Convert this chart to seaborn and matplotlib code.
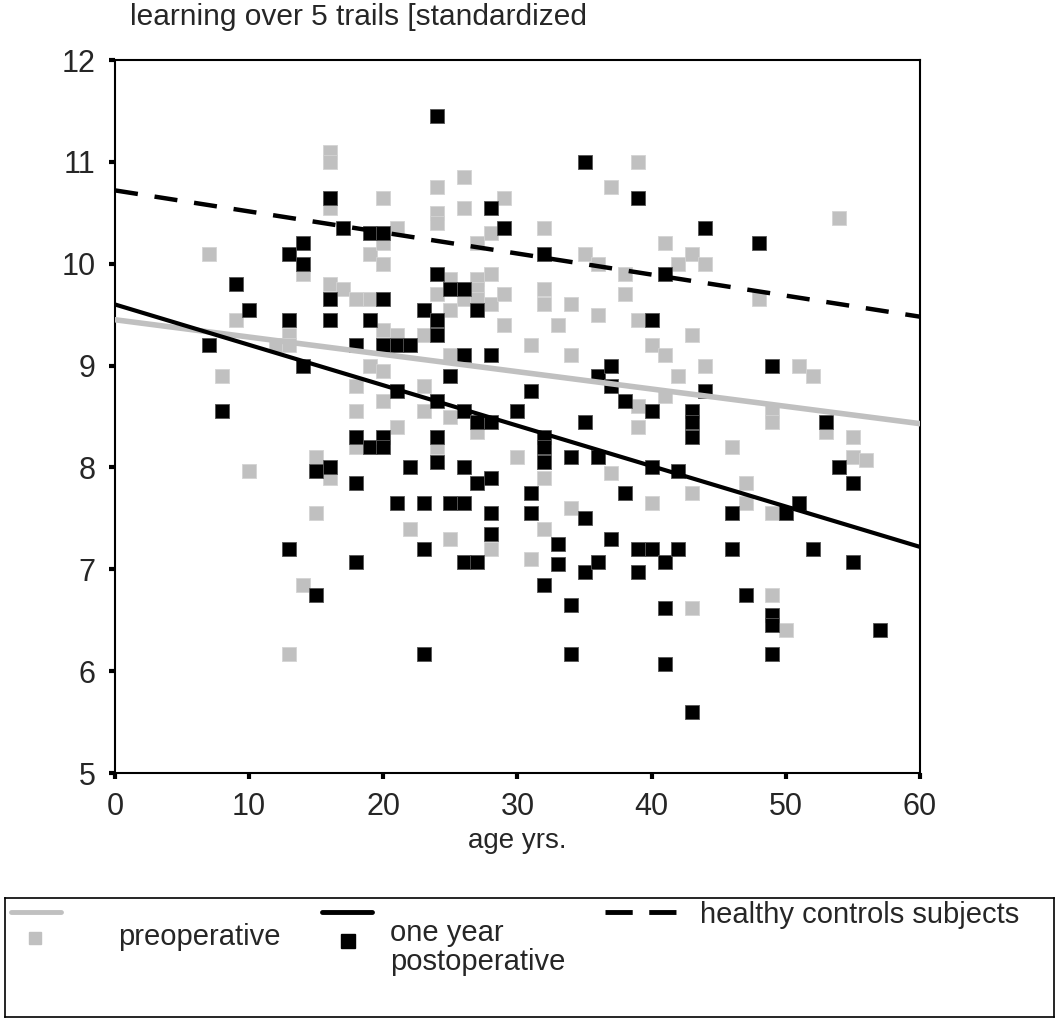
import matplotlib
matplotlib.use("Agg")
import matplotlib.pyplot as plt
import numpy as np
import pandas as pd
import seaborn as sns
from matplotlib.lines import Line2D

# preoperative (gray squares)
pre_age = [
    7, 8, 9, 10, 12, 13, 13, 13, 14, 14, 15, 15,
    16, 16, 16, 16, 16, 17, 18, 18, 18, 18, 19, 19, 19,
    20, 20, 20, 20, 20, 20, 21, 21, 21, 22, 22, 23, 23, 23,
    24, 24, 24, 24, 24, 25, 25, 25, 25, 25, 26, 26, 26,
    27, 27, 27, 27, 27, 28, 28, 28, 28, 29, 29, 29, 30, 31, 31,
    32, 32, 32, 32, 32, 33, 34, 34, 34, 35, 36, 36, 37, 37, 38, 38,
    39, 39, 39, 39, 40, 40, 41, 41, 41, 42, 42, 43, 43, 43, 43,
    44, 44, 46, 47, 47, 48, 49, 49, 49, 49, 50, 51, 52, 53, 54, 55, 55, 56,
]
pre_score = [
    10.1, 8.9, 9.45, 7.97, 9.2, 9.3, 9.2, 6.17, 9.9, 6.85, 8.1, 7.55,
    11.1, 11.0, 10.55, 9.8, 7.9, 9.75, 9.65, 8.8, 8.55, 8.2, 10.1, 9.65, 9.0,
    10.65, 10.2, 10.0, 9.35, 8.95, 8.65, 10.35, 9.3, 8.4, 9.2, 7.4, 9.3, 8.8, 8.55,
    10.75, 10.5, 10.4, 9.7, 8.2, 9.85, 9.55, 9.1, 8.5, 7.3, 10.85, 10.55, 9.65,
    10.2, 9.85, 9.75, 9.65, 8.35, 10.3, 9.9, 9.6, 7.2, 10.65, 9.7, 9.4, 8.1, 9.2, 7.1,
    10.35, 9.75, 9.6, 7.9, 7.4, 9.4, 9.6, 9.1, 7.6, 10.1, 10.0, 9.5, 10.75, 7.95, 9.9, 9.7,
    11.0, 9.45, 8.6, 8.4, 9.2, 7.65, 10.2, 9.1, 8.7, 10.0, 8.9, 10.1, 9.3, 7.75, 6.62,
    10.0, 9.0, 8.2, 7.85, 7.65, 9.65, 8.55, 8.45, 7.55, 6.75, 6.4, 9.0, 8.9, 8.35, 10.45, 8.3, 8.1, 8.07,
]

# one year postoperative (black squares)
post_age = [
    7, 8, 9, 10, 13, 13, 13, 14, 14, 14, 15, 15, 16, 16, 16, 16, 17,
    18, 18, 18, 18, 19, 19, 19, 20, 20, 20, 20, 20, 21, 21, 21, 22, 22,
    23, 23, 23, 23, 24, 24, 24, 24, 24, 24, 24, 25, 25, 25,
    26, 26, 26, 26, 26, 26, 27, 27, 27, 27, 28, 28, 28, 28, 28, 28,
    29, 30, 31, 31, 31, 32, 32, 32, 32, 32, 33, 33, 34, 34, 34,
    35, 35, 35, 35, 36, 36, 36, 37, 37, 37, 38, 38, 39, 39, 39,
    40, 40, 40, 40, 41, 41, 41, 41, 42, 42, 43, 43, 43, 43, 44, 44,
    46, 46, 47, 48, 49, 49, 49, 49, 50, 51, 52, 53, 54, 55, 55, 57,
]
post_score = [
    9.2, 8.55, 9.8, 9.55, 10.1, 9.45, 7.2, 10.2, 10.0, 9.0, 7.97, 6.75, 10.65, 9.65, 9.45, 8.0, 10.35,
    9.2, 8.3, 7.85, 7.07, 10.3, 9.45, 8.2, 10.3, 9.65, 9.2, 8.3, 8.2, 9.2, 8.75, 7.65, 9.2, 8.0,
    9.55, 7.65, 7.2, 6.17, 11.45, 9.9, 9.45, 9.3, 8.65, 8.3, 8.05, 9.75, 8.9, 7.65,
    9.75, 9.1, 8.55, 8.0, 7.65, 7.07, 9.55, 8.45, 7.85, 7.07, 10.55, 9.1, 8.45, 7.9, 7.55, 7.35,
    10.35, 8.55, 8.75, 7.75, 7.55, 10.1, 8.3, 8.2, 8.05, 6.85, 7.25, 7.05, 8.1, 6.65, 6.17,
    11.0, 8.45, 7.5, 6.97, 8.9, 8.1, 7.07, 9.0, 8.8, 7.3, 8.65, 7.75, 10.65, 7.2, 6.97,
    9.45, 8.55, 8.0, 7.2, 9.9, 7.07, 6.62, 6.07, 7.97, 7.2, 8.55, 8.45, 8.3, 5.6, 10.35, 8.75,
    7.55, 7.2, 6.75, 10.2, 9.0, 6.55, 6.45, 6.17, 7.55, 7.65, 7.2, 8.45, 8.0, 7.85, 7.07, 6.4,
]

# fitted lines, read at age 0 and age 60
fit_age = [0, 60]
pre_fit = [9.45, 8.43]
post_fit = [9.6, 7.22]
control_fit = [10.72, 9.48]

GRAY = "#c0c0c0"

sns.set_theme(style="white")
plt.rcParams["font.family"] = ["Liberation Sans", "DejaVu Sans"]

pre_df = pd.DataFrame({"age": pre_age, "score": pre_score})
post_df = pd.DataFrame({"age": post_age, "score": post_score})
fit_df = pd.DataFrame({"age": fit_age, "pre": pre_fit, "post": post_fit, "control": control_fit})

fig = plt.figure(figsize=(10.59, 10.19), dpi=100)
ax = fig.add_axes([0.1086, 0.2414, 0.7601, 0.6997])

sns.scatterplot(data=pre_df, x="age", y="score", marker="s", s=90, color=GRAY,
                edgecolor="#d4d4d4", linewidth=0.6, ax=ax, zorder=2)
sns.scatterplot(data=post_df, x="age", y="score", marker="s", s=90, color="black",
                edgecolor="#555555", linewidth=0.6, ax=ax, zorder=3)

sns.lineplot(data=fit_df, x="age", y="pre", color=GRAY, linewidth=4, ax=ax, zorder=4)
sns.lineplot(data=fit_df, x="age", y="post", color="black", linewidth=3, ax=ax, zorder=5)
sns.lineplot(data=fit_df, x="age", y="control", color="black", linewidth=3.2,
             ax=ax, zorder=5)
ax.lines[-1].set_dashes((5.2, 3.8))

ax.set_xlim(0, 60)
ax.set_ylim(5, 12)
ax.set_xticks([0, 10, 20, 30, 40, 50, 60])
ax.set_yticks([5, 6, 7, 8, 9, 10, 11, 12])
ax.tick_params(axis="both", direction="out", length=4, width=3, color="black",
               labelsize=22, pad=10, bottom=True, left=True)
for spine in ax.spines.values():
    spine.set_color("black")
    spine.set_linewidth(1.5)
ax.set_xlabel("age yrs.", fontsize=20, labelpad=4)
ax.set_ylabel("")

fig.text(0.123, 0.997, "learning over 5 trails [standardized", fontsize=21.5,
         ha="left", va="top")

# legend box drawn underneath the plot
lax = fig.add_axes([0.0047, 0.002, 0.9906, 0.1168])
lax.set_xlim(0, 1)
lax.set_ylim(0, 1)
lax.set_xticks([])
lax.set_yticks([])
for spine in lax.spines.values():
    spine.set_color("black")
    spine.set_linewidth(1.2)

lax.add_line(Line2D([0.006, 0.053], [0.88, 0.88], color=GRAY, linewidth=3.5))
lax.add_line(Line2D([0.029], [0.66], marker="s", markersize=9, color=GRAY, linestyle=""))
lax.text(0.108, 0.67, "preoperative", fontsize=21, va="center", ha="left")

lax.add_line(Line2D([0.302, 0.350], [0.88, 0.88], color="black", linewidth=3.5))
lax.add_line(Line2D([0.327], [0.64], marker="s", markersize=10, color="black", linestyle=""))
lax.text(0.367, 0.82, "one year\npostoperative", fontsize=21, va="top", ha="left",
         linespacing=1.05)

lax.add_line(Line2D([0.572, 0.643], [0.88, 0.88], color="black", linewidth=3.5,
                    dashes=(5.6, 3.4)))
lax.text(0.6625, 0.86, "healthy controls subjects", fontsize=21, va="center", ha="left")

fig.savefig("out.png", dpi=100)
